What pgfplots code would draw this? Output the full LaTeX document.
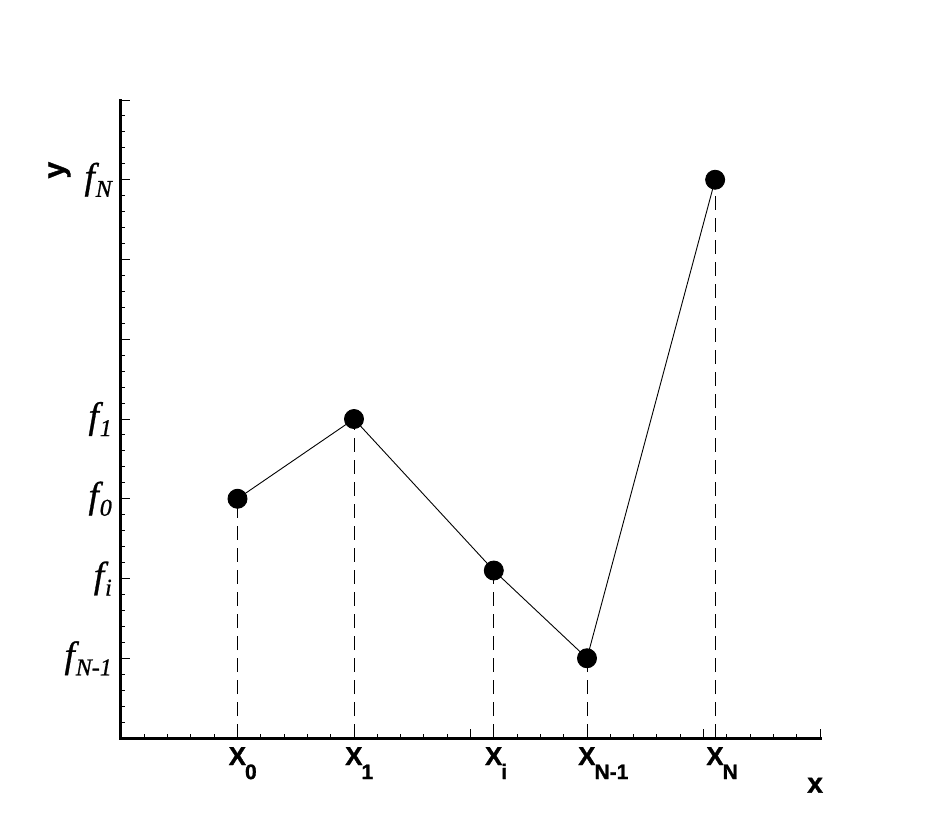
\documentclass[border=0pt]{standalone}
\usepackage{fontspec}
\setmainfont{Liberation Serif}
\setsansfont{Liberation Sans}
\newfontfamily\xsans[FakeBold=1.2]{Liberation Sans}
\newfontfamily\fserif[FakeBold=0.8]{Liberation Serif}
\usepackage{pgfplots}
\pgfplotsset{compat=1.18}
\newcommand{\xlab}[1]{{\xsans\bfseries\fontsize{26}{26}\selectfont X\kern-1pt\raisebox{-14pt}{\fontsize{21}{21}\selectfont #1}}}
\newcommand{\flab}[1]{{\fserif\itshape\fontsize{37}{37}\selectfont f\kern1pt\raisebox{-8pt}{\fontsize{24}{24}\selectfont #1}}}
\begin{document}
\begin{tikzpicture}
\useasboundingbox (-121pt,-92pt) rectangle (813pt,738pt);
\begin{axis}[
  at={(0pt,0pt)}, anchor=south west,
  scale only axis, width=699pt, height=638pt,
  xmin=0, xmax=30, ymin=0, ymax=8,
  axis lines*=left,
  axis line style={line width=3pt, line cap=rect},
  tick align=inside,
  major tick length=9pt, minor tick length=4pt,
  every tick/.style={line width=1pt, black},
  xtick={5,10,16,20,25.5},
  xticklabels={\xlab{0},\xlab{1},\xlab{i},\xlab{N-1},\xlab{N}},
  extra x ticks={0,15,25,30}, extra x tick labels={},
  extra x tick style={grid=none},
  minor xtick={0,1,...,30},
  ytick={1,2,3,4,7},
  yticklabels={\flab{N-1},\flab{i},\flab{0},\flab{1},\flab{N}},
  extra y ticks={5,6,8}, extra y tick labels={},
  extra y tick style={grid=none},
  minor ytick={0,0.2,...,8},
  xticklabel style={anchor=north west, xshift=-9pt, yshift=-9pt, inner sep=0pt},
  yticklabel style={anchor=east, xshift=-9pt, yshift=0pt, inner sep=0pt},
  xlabel={\xsans\bfseries\fontsize{28}{28}\selectfont x},
  xlabel style={at={(axis description cs:0.993,-0.074)}, anchor=center},
  ylabel={\xsans\bfseries\fontsize{30}{30}\selectfont y},
  ylabel style={at={(axis description cs:-0.088,0.89)}, anchor=center, rotate=0},
  clip=false,
]
\addplot[ycomb, black, line width=0.9pt, dash pattern=on 14pt off 8pt] coordinates {
  (5,3) (10,4) (16,2.1) (20,1) (25.5,7)
};
\addplot[black, line width=0.9pt, mark=*, mark size=9.5pt, mark options={solid, fill=black}] coordinates {
  (5,3) (10,4) (16,2.1) (20,1) (25.5,7)
};
\end{axis}
\end{tikzpicture}
\end{document}
